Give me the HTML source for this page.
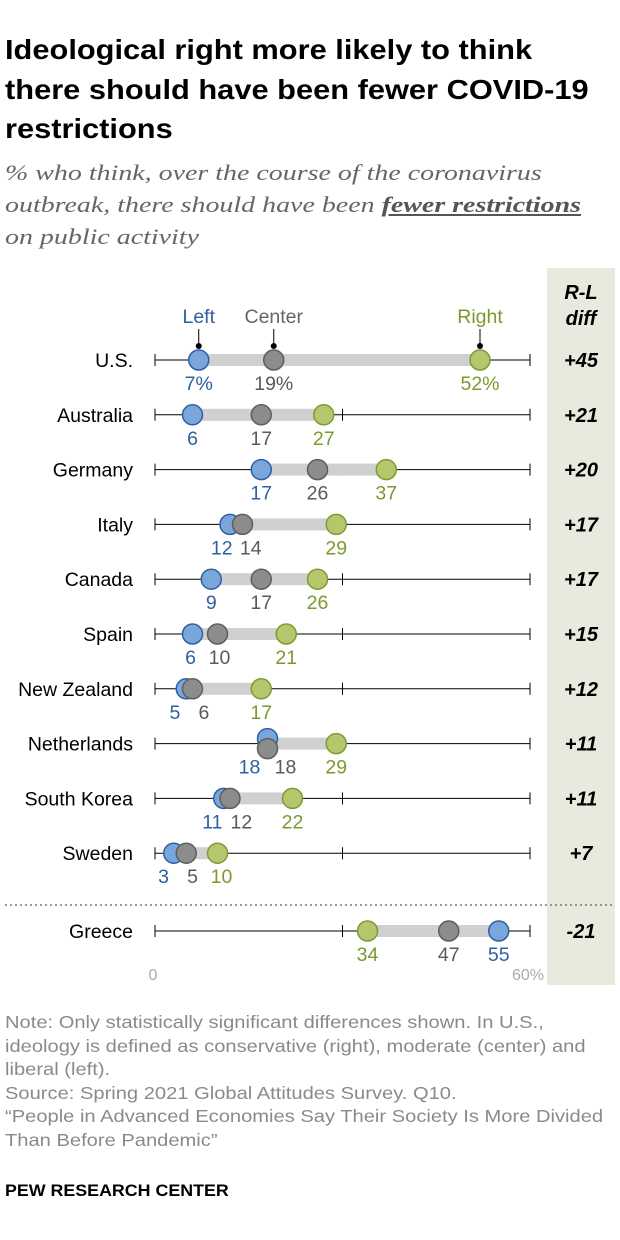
<!DOCTYPE html>
<html><head><meta charset="utf-8">
<style>
body{margin:0;background:#fff;font-family:"Liberation Sans",sans-serif;}
#wrap{position:relative;width:620px;height:1240px;overflow:hidden;}
.t{position:absolute;left:5px;top:30px;font-size:28px;font-weight:bold;line-height:39.5px;color:#000;white-space:nowrap;transform:scaleX(1.1);transform-origin:left top;}
.s{position:absolute;left:5px;top:157px;font-family:"Liberation Serif",serif;font-style:italic;font-size:22px;line-height:32px;color:#666;white-space:nowrap;transform:scaleX(1.27);transform-origin:left top;}
.s u{font-weight:bold;color:#555;}
.n{position:absolute;left:5px;top:1011px;font-size:17.5px;line-height:23.5px;color:#8a8a8a;white-space:nowrap;transform:scaleX(1.15);transform-origin:left top;}
.p{position:absolute;left:5px;top:1182px;font-size:16.5px;font-weight:bold;color:#000;white-space:nowrap;transform:scaleX(1.08);transform-origin:left top;}
</style></head><body>
<div id="wrap">
<div class="t">Ideological right more likely to think<br>there should have been fewer COVID-19<br>restrictions</div>
<div class="s">% who think, over the course of the coronavirus<br>outbreak, there should have been <u>fewer restrictions</u><br>on public activity</div>
<svg id="chart" width="620" height="1240" style="position:absolute;left:0;top:0"></svg>
<div class="n">Note: Only statistically significant differences shown. In U.S.,<br>ideology is defined as conservative (right), moderate (center) and<br>liberal (left).<br>Source: Spring 2021 Global Attitudes Survey. Q10.<br>“People in Advanced Economies Say Their Society Is More Divided<br>Than Before Pandemic”</div>
<div class="p">PEW RESEARCH CENTER</div>
</div>
<script>
const countries=["U.S.","Australia","Germany","Italy","Canada","Spain","New Zealand","Netherlands","South Korea","Sweden","Greece"];
const leftVals=[7,6,17,12,9,6,5,18,11,3,55];
const centerVals=[19,17,26,14,17,10,6,18,12,5,47];
const rightVals=[52,27,37,29,26,21,17,29,22,10,34];
const diffs=["+45","+21","+20","+17","+17","+15","+12","+11","+11","+7","-21"];
const axisTicks=[0,30,60];

const NS="http://www.w3.org/2000/svg";
const svg=document.getElementById("chart");
const X0=155,X1=530,XMAX=60;
const xs=v=>X0+(X1-X0)*v/XMAX;
const rowY=i=>i<10?360+i*54.8:931;
function mk(tag,attrs,parent){const e=document.createElementNS(NS,tag);for(const k in attrs)e.setAttribute(k,attrs[k]);(parent||svg).appendChild(e);return e;}
function txt(x,y,s,attrs){const e=mk("text",Object.assign({x:x,y:y},attrs));e.textContent=s;return e;}

const col=mk("rect",{x:547,y:268,width:68,height:717,fill:"#eae9dd"});


const h1=txt(581,299,"R-L",{"text-anchor":"middle","font-size":20,"font-weight":"bold","font-style":"italic"});


const h2=txt(581,325,"diff",{"text-anchor":"middle","font-size":20,"font-weight":"bold","font-style":"italic"});



const sep=mk("line",{x1:5,x2:615,y1:905,y2:905,stroke:"#777","stroke-dasharray":"2,3","stroke-width":1.5});



const C={L:{f:"#7aa6dc",s:"#2e5fa3",t:"#2e5fa3"},C:{f:"#8c8c8c",s:"#5e5e5e",t:"#5a5a5a"},R:{f:"#b5c76c",s:"#7e9a32",t:"#7b9a2e"}};

countries.forEach((c,i)=>{
  const y=rowY(i);
  const g=mk("g",{});
  
  
  const lab=txt(133,y+7,c,{"text-anchor":"end","font-size":19.5,fill:"#000"});
  g.appendChild(lab);
  
  
  const ax=mk("line",{x1:X0,x2:X1,y1:y,y2:y,stroke:"#000","stroke-width":1},g);
  
  
  axisTicks.forEach(t=>{
    const tk=mk("line",{x1:xs(t),x2:xs(t),y1:y-6,y2:y+6,stroke:"#000","stroke-width":1},g);
    
    
  });
  const vals=[leftVals[i],centerVals[i],rightVals[i]];
  const mn=Math.min(...vals),mx=Math.max(...vals);
  const bar=mk("rect",{x:xs(mn),y:y-6,width:xs(mx)-xs(mn),height:12,fill:"#d0d0d0"},g);
  
  
  const same=leftVals[i]===centerVals[i];
  const pts=[["L",leftVals[i],same?-5:0],["C",centerVals[i],same?5:0],["R",rightVals[i],0]];
  pts.forEach(p=>{
    const d=mk("circle",{cx:xs(p[1]),cy:y+p[2],r:10,fill:C[p[0]].f,stroke:C[p[0]].s,"stroke-width":1.5},g);
    
    
  });
  const labs=pts.map(p=>({k:p[0],v:p[1],x:xs(p[1])}));
  labs.sort((a,b)=>a.v-b.v||(a.k==="L"?-1:1));
  const minGap=i===0?26:(same?36:29);
  for(let it=0;it<30;it++){
    for(let j=1;j<labs.length;j++){
      const d=labs[j].x-labs[j-1].x;
      if(d<minGap){const sh=(minGap-d)/2;labs[j].x+=sh;labs[j-1].x-=sh;}
    }
  }
  labs.forEach(l=>{
    const s=i===0?l.v+"%":String(l.v);
    const t=txt(l.x,y+30,s,{"text-anchor":"middle","font-size":19.5,fill:C[l.k].t},g);
    g.appendChild(t);
    
    
  });
  const df=txt(581,y+7,diffs[i],{"text-anchor":"middle","font-size":20,"font-weight":"bold","font-style":"italic"});
  
  
});

const lead=[["Left",leftVals[0],"#2e5fa3"],["Center",centerVals[0],"#666"],["Right",rightVals[0],"#7b9a2e"]];
lead.forEach(l=>{
  const x=xs(l[1]);
  const t=txt(x,323,l[0],{"text-anchor":"middle","font-size":19.5,fill:l[2]});
  
  
  const ln=mk("line",{x1:x,x2:x,y1:329,y2:346,stroke:"#000","stroke-width":1});
  
  
  const c=mk("circle",{cx:x,cy:346,r:3,fill:"#000"});
  
  
});

const a0=txt(X0-2,980,"0",{"text-anchor":"middle","font-size":16,fill:"#aaa"});


const a1=txt(X1-2,980,"60%",{"text-anchor":"middle","font-size":16,fill:"#aaa"});


</script>
</body></html>
